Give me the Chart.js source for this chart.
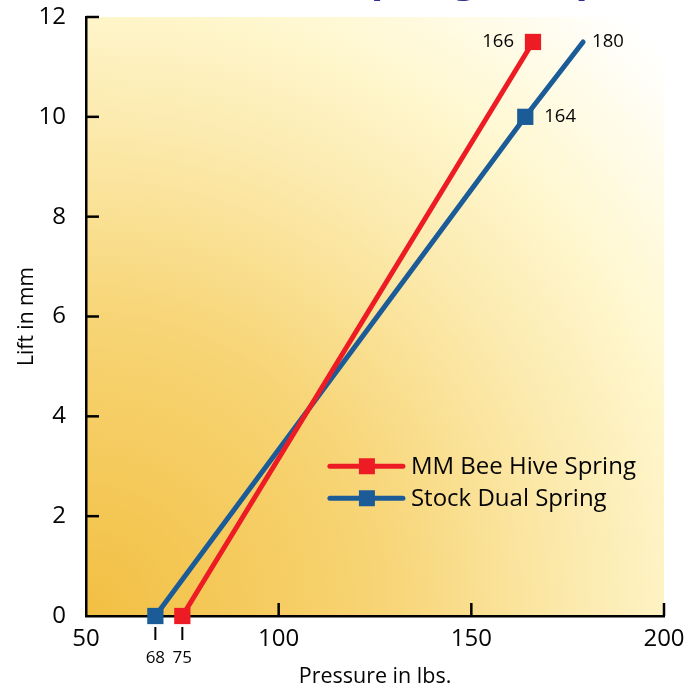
<!DOCTYPE html>
<html>
<head>
<meta charset="utf-8">
<script src="https://cdn.jsdelivr.net/npm/chart.js@4/dist/chart.umd.min.js"></script>
<style>
  html, body { margin: 0; padding: 0; background: #fff; }
  #wrap { width: 696px; height: 690px; }
</style>
</head>
<body>
<div id="wrap"><canvas id="springChart"></canvas></div>
<script>
// values
const beeHivePressure = [75, 166];
const beeHiveLift = [0, 11.5];
const beeHiveTags = [null, '166'];

const stockPressure = [68, 164, 179];
const stockLift = [0, 10, 11.5];
const stockTags = [null, '164', '180'];

const pressureTicks = [50, 100, 150, 200];
const liftTicks = [0, 2, 4, 6, 8, 10, 12];
const seatTicks = [68, 75];

const FONT = "'Open Sans', 'Noto Sans', sans-serif";
const RED = '#ed1c24';
const BLUE = '#1b5c98';
const INK = '#050505';

const toPoints = (xs, ys) => xs.map((x, i) => ({ x: x, y: ys[i] }));

// plot background: warm radial fade from the bottom-left corner
const bgPlugin = {
    id: 'bg',
    beforeDraw(chart) {
        const { ctx, chartArea: a } = chart;
        const r = Math.hypot(a.right - a.left, a.bottom - a.top);
        const g = ctx.createRadialGradient(a.left, a.bottom, 0, a.left, a.bottom, r);
        g.addColorStop(0, '#f2bf42');
        g.addColorStop(0.35, '#f7d474');
        g.addColorStop(0.6, '#fcebb0');
        g.addColorStop(0.76, '#fff8d2');
        g.addColorStop(0.97, '#ffffff');
        ctx.save();
        ctx.fillStyle = g;
        ctx.fillRect(a.left, a.top, a.right - a.left, a.bottom - a.top);
        ctx.restore();
    }
};

// inward tick marks, seat-pressure marks, point tags, legend, cut-off heading
const extrasPlugin = {
    id: 'extras',
    afterDraw(chart) {
        const { ctx, chartArea: a } = chart;
        const xs = chart.scales.x, ys = chart.scales.y;
        ctx.save();
        ctx.strokeStyle = '#000';
        ctx.lineWidth = 2.5;
        liftTicks.forEach(v => {
            if (v === 0) return;
            const y = ys.getPixelForValue(v);
            ctx.beginPath(); ctx.moveTo(a.left, y); ctx.lineTo(a.left + 13, y); ctx.stroke();
        });
        pressureTicks.forEach(v => {
            if (v === 50) return;
            const x = xs.getPixelForValue(v);
            ctx.beginPath(); ctx.moveTo(x, a.bottom); ctx.lineTo(x, a.bottom - 13); ctx.stroke();
        });

        // seat pressure marks under the axis
        ctx.lineWidth = 2;
        ctx.fillStyle = INK;
        ctx.font = '17px ' + FONT;
        ctx.textAlign = 'center';
        ctx.textBaseline = 'middle';
        seatTicks.forEach(v => {
            const x = xs.getPixelForValue(v);
            ctx.beginPath(); ctx.moveTo(x, a.bottom + 11); ctx.lineTo(x, a.bottom + 24); ctx.stroke();
            ctx.fillText(String(v), x, a.bottom + 42);
        });

        // tags next to points
        ctx.font = '18.5px ' + FONT;
        const tagSets = [beeHiveTags, stockTags];
        chart.data.datasets.forEach((ds, di) => {
            const meta = chart.getDatasetMeta(di);
            meta.data.forEach((pt, i) => {
                const t = tagSets[di][i];
                if (!t) return;
                if (di === 0) {
                    ctx.textAlign = 'right';
                    ctx.fillText(t, pt.x - 19, pt.y);
                } else {
                    ctx.textAlign = 'left';
                    ctx.fillText(t, pt.x + (i === 2 ? 9 : 19), pt.y);
                }
            });
        });

        // legend inside the plot
        const lx = xs.getPixelForValue(113.3), ly = ys.getPixelForValue(3);
        ctx.font = '24px ' + FONT;
        ctx.textAlign = 'left';
        chart.data.datasets.forEach((ds, di) => {
            const y = ly + di * 32;
            ctx.strokeStyle = ds.borderColor;
            ctx.lineWidth = 5;
            ctx.lineCap = 'round';
            ctx.beginPath(); ctx.moveTo(lx, y); ctx.lineTo(lx + 73, y); ctx.stroke();
            ctx.fillStyle = ds.borderColor;
            ctx.fillRect(lx + 29, y - 8, 16, 16);
            ctx.fillStyle = INK;
            ctx.fillText(ds.label, lx + 81, y + 1);
        });

        // heading, mostly above the visible page
        ctx.font = 'bold 40px ' + FONT;
        ctx.fillStyle = '#2e3192';
        ctx.textBaseline = 'alphabetic';
        const sW = ctx.measureText('S').width;
        ctx.fillText('Spring Comparison', 371 - sW, -8);
        ctx.restore();
    }
};

const ctx = document.getElementById('springChart');
const springChart = new Chart(ctx, {
    type: 'scatter',
    data: {
        datasets: [{
            label: 'MM Bee Hive Spring',
            data: toPoints(beeHivePressure, beeHiveLift),
            showLine: true,
            clip: false,
            borderColor: RED,
            backgroundColor: RED,
            borderWidth: 5,
            borderCapStyle: 'round',
            pointStyle: 'rect',
            pointRadius: 11.5,
            pointBorderWidth: 0,
        }, {
            label: 'Stock Dual Spring',
            data: toPoints(stockPressure, stockLift),
            showLine: true,
            clip: false,
            borderColor: BLUE,
            backgroundColor: BLUE,
            borderWidth: 5,
            borderCapStyle: 'round',
            pointStyle: 'rect',
            pointRadius: [11.5, 11.5, 0],
            pointBorderWidth: 0,
        }]
    },
    options: {
        responsive: true,
        maintainAspectRatio: false,
        animation: false,
        layout: { padding: { left: 0, top: 17, right: 32, bottom: 0 } },
        plugins: {
            legend: { display: false },
            tooltip: { enabled: false },
        },
        scales: {
            x: {
                type: 'linear',
                min: 50,
                max: 200,
                afterFit: s => { s.height = 74; s.paddingLeft = 0; s.paddingRight = 0; },
                afterBuildTicks: s => { s.ticks = pressureTicks.map(v => ({ value: v })); },
                ticks: { color: INK, font: { family: FONT, size: 24 }, padding: 1 },
                grid: { display: false },
                border: { display: true, color: '#000', width: 2.5 },
                title: {
                    display: true,
                    text: 'Pressure in lbs.',
                    color: INK,
                    font: { family: FONT, size: 21.5 },
                    padding: { top: 0, bottom: 0 },
                },
            },
            y: {
                min: 0,
                max: 12,
                afterFit: s => { s.width = 86; s.paddingTop = 0; s.paddingBottom = 0; },
                afterBuildTicks: s => { s.ticks = liftTicks.map(v => ({ value: v })); },
                ticks: { color: INK, font: { family: FONT, size: 24 }, padding: 12 },
                grid: { display: false },
                border: { display: true, color: '#000', width: 2.5 },
                title: {
                    display: true,
                    text: 'Lift in mm',
                    color: INK,
                    font: { family: FONT, size: 21 },
                    padding: { top: 14, bottom: 0 },
                },
            }
        }
    },
    plugins: [bgPlugin, extrasPlugin]
});
</script>
</body>
</html>
